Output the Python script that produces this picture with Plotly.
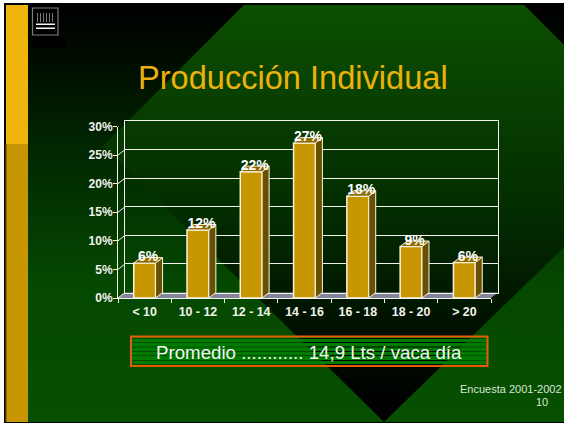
import plotly.graph_objects as go

# ---- data ----
categories = ["< 10", "10 - 12", "12 - 14", "14 - 16", "16 - 18", "18 - 20", "> 20"]
values = [6.1, 11.9, 22.1, 27.1, 17.8, 9.0, 6.2]
value_labels = ["6%", "12%", "22%", "27%", "18%", "9%", "6%"]
y_ticks = [0, 5, 10, 15, 20, 25, 30]
y_tick_labels = ["0%", "5%", "10%", "15%", "20%", "25%", "30%"]

title_text = "Producción Individual"
box_text = "Promedio ............ 14,9 Lts / vaca día"
footer_text = "Encuesta 2001-2002"
page_text = "10"

W, H = 564, 424
FONT = "Liberation Sans"
INK = "#f2f2ee"
EDGE = "#f8f4e4"

# plot geometry (pixels)
FX0, FX1, FY0, FY30 = 118, 491, 298, 126.5     # front plane
BX0, BX1, BY0, BY30 = 125, 498, 292.5, 121     # back wall
DX = (BX0 - FX0) / ((FX1 - FX0) / 7)           # depth in category units
DY = (FY0 - BY0) / ((FY0 - FY30) / 30)         # depth in percent units
BAR_W = 0.41
LABEL_DROP = 1.5 / ((FY0 - FY30) / 30)

fig = go.Figure()

# ---- background: two opposite vertical gradients, outside / inside a diamond ----
outside_scale = [[0, "#000000"], [0.13, "#000c00"], [0.336, "#012600"],
                 [0.67, "#054800"], [1, "#075000"]]
inside_scale = [[0, "#0c5000"], [0.5, "#032c00"], [0.9, "#000400"], [1, "#000000"]]
TOP, BOT = 5, 422
fig.add_trace(go.Scatter(x=[28, W, W, 28, 28], y=[TOP, TOP, BOT, BOT, TOP], mode="none",
                         fill="toself", hoverinfo="skip", showlegend=False,
                         fillgradient=dict(type="vertical", colorscale=outside_scale,
                                           start=TOP, stop=BOT),
                         xaxis="x", yaxis="y"))
fig.add_trace(go.Scatter(x=[244, 524, W, W, 384, 103, 244],
                         y=[TOP, TOP, 45, 247, BOT, 146, TOP], mode="none",
                         fill="toself", hoverinfo="skip", showlegend=False,
                         fillgradient=dict(type="vertical", colorscale=inside_scale,
                                           start=TOP, stop=BOT),
                         xaxis="x", yaxis="y"))

# ---- floor, in the lowest (pixel) layer so it sits beneath the bars ----
n = len(categories)
fig.add_trace(go.Scatter(
    x=[BX0, FX0, FX1, BX1, BX0], y=[BY0, FY0, FY0, BY0, BY0], mode="lines", fill="toself",
    fillcolor="#85859a", line=dict(color="#85859a", width=0), hoverinfo="skip",
    showlegend=False, xaxis="x", yaxis="y"))

# ---- back wall: an unmarked trace keeps this subplot (and its grid) alive ----
fig.add_trace(go.Scatter(x=list(range(n)), y=values, mode="none", hoverinfo="skip",
                         showlegend=False, xaxis="x2", yaxis="y2"))

# ---- front faces: real bars ----
fig.add_trace(go.Bar(x=list(range(n)), y=values, width=BAR_W, marker=dict(
    color="#c89600", line=dict(color=EDGE, width=1.5)),
    hoverinfo="skip", showlegend=False, xaxis="x3", yaxis="y3"))

# ---- side and top faces, derived from the values ----
for i, v in enumerate(values):
    l, r = i - BAR_W / 2, i + BAR_W / 2
    fig.add_trace(go.Scatter(
        x=[r, r + DX, r + DX, r, r], y=[0, DY, v + DY, v, 0], mode="lines", fill="toself",
        fillcolor="#695000", line=dict(color=EDGE, width=1), cliponaxis=False,
        hoverinfo="skip", showlegend=False, xaxis="x3", yaxis="y3"))
    fig.add_trace(go.Scatter(
        x=[l, l + DX, r + DX, r, l], y=[v, v + DY, v + DY, v, v], mode="lines", fill="toself",
        fillcolor="#8f6c00", line=dict(color=EDGE, width=1), cliponaxis=False,
        hoverinfo="skip", showlegend=False, xaxis="x3", yaxis="y3"))

# ---- diagonals joining the front ticks to the back wall ----
for t in y_ticks:
    fig.add_trace(go.Scatter(x=[-0.5, -0.5 + DX], y=[t, t + DY], mode="lines",
                             line=dict(color=INK, width=1), cliponaxis=False,
                             hoverinfo="skip", showlegend=False, xaxis="x3", yaxis="y3"))
fig.add_trace(go.Scatter(x=[n - 0.5, n - 0.5 + DX], y=[0, DY], mode="lines",
                         line=dict(color=INK, width=1), cliponaxis=False,
                         hoverinfo="skip", showlegend=False, xaxis="x3", yaxis="y3"))

# ---- value labels ----
fig.add_trace(go.Scatter(
    x=[i + DX / 2 for i in range(n)], y=[v - LABEL_DROP for v in values], mode="text",
    text=value_labels, textposition="top center",
    textfont=dict(family=FONT, size=14, color="#ffffff", weight="bold"),
    cliponaxis=False, hoverinfo="skip", showlegend=False, xaxis="x3", yaxis="y3"))

# ---- decoration ----
shapes = [
    dict(type="rect", xref="paper", yref="paper", x0=0, x1=1, y0=0, y1=1, layer="below",
         fillcolor="#000000", line_width=0),
]
def rect(x0, y0, x1, y1, fill, line=None, lw=0):
    shapes.append(dict(type="rect", xref="x", yref="y", x0=x0, y0=y0, x1=x1, y1=y1,
                       fillcolor=fill, line=dict(color=line or fill, width=lw), layer="above"))
# white page frame
rect(0, 0, W, 3, "#ffffff")
rect(0, 0, 4, H, "#ffffff")
rect(0, 423, W, H, "#ffffff")
# gold column
rect(6, 5, 28, 144, "#f0b50c")
rect(6, 144, 28, 422, "#c89600")
rect(5, 144, 6.5, 422, "#4a3800")
# logo
rect(32, 36, 65, 48, "#000000")
rect(32.5, 8, 58, 35, "#000000", "#7c7c7c", 1.2)
rect(36, 23.5, 55, 25, "#f4f4f4")
rect(36, 27.5, 55, 29, "#f4f4f4")
for lx in (37, 40, 43, 46, 49, 52):
    rect(lx, 13, lx + 1, 22, "#7a7a7a")
# box: green bands with one-pixel gaps through which the background shows
gaps = [338, 342, 346.5, 351, 355, 360, 364]
edges = [337] + gaps + [365.5]
for a, b in zip(edges[:-1], edges[1:]):
    rect(131, a + (0 if a == 337 else 1), 487, b, "#007a00")
rect(131, 336.5, 487.5, 366, "rgba(0,0,0,0)", "#e85d04", 2)

def note(px, py, text, size, color, xanchor="center"):
    return dict(x=px, y=py, xref="x", yref="y", text=text, showarrow=False, xanchor=xanchor,
                yanchor="middle", font=dict(family=FONT, size=size, color=color))

annotations = [
    note(292.5, 77, title_text, 32.6, "#edb10c"),
    note(309, 352, box_text, 18.7, "#f5f5f5"),
    note(511, 388.5, footer_text, 11, "#d8e6d8"),
    note(541.5, 402, page_text, 11, "#d8e6d8"),
]

fig.update_layout(
    width=W, height=H, autosize=False,
    margin=dict(l=0, r=0, t=0, b=0, pad=0, autoexpand=False),
    paper_bgcolor="#ffffff", plot_bgcolor="rgba(0,0,0,0)", showlegend=False, barmode="overlay",
    shapes=shapes, annotations=annotations,
    # pixel frame for the background
    xaxis=dict(domain=[0, 1], range=[0, W], visible=False, fixedrange=True),
    yaxis=dict(domain=[0, 1], range=[H, 0], visible=False, fixedrange=True),
    # back wall
    xaxis2=dict(domain=[BX0 / W, BX1 / W], range=[-0.5, n - 0.5], anchor="y2",
                showticklabels=False, ticks="", showline=True, linecolor=INK, linewidth=1,
                mirror=True, showgrid=False, zeroline=False, fixedrange=True),
    yaxis2=dict(domain=[1 - BY0 / H, 1 - BY30 / H], range=[0, 30], anchor="x2", tickvals=y_ticks,
                showticklabels=False, ticks="", showgrid=True, gridcolor=INK, gridwidth=1,
                zeroline=False, showline=True, linecolor=INK, linewidth=1, mirror=True,
                fixedrange=True),
    # front plane
    xaxis3=dict(domain=[FX0 / W, FX1 / W], range=[-0.5, n - 0.5], anchor="y3",
                tickvals=list(range(n)), ticktext=categories, ticks="", showgrid=False,
                zeroline=False, showline=True, linecolor=INK, linewidth=1,
                minor=dict(tick0=-0.5, dtick=1, ticks="outside", ticklen=4, tickcolor=INK,
                           tickwidth=1, showgrid=False),
                tickfont=dict(family=FONT, size=12.4, color=INK), ticklabelstandoff=2,
                fixedrange=True),
    yaxis3=dict(domain=[1 - FY0 / H, 1 - FY30 / H], range=[0, 30], anchor="x3",
                tickvals=y_ticks, ticktext=y_tick_labels, ticks="outside", ticklen=4,
                tickcolor=INK, tickwidth=1, showgrid=False, zeroline=False, showline=True,
                linecolor=INK, linewidth=1, ticklabelstandoff=-2,
                tickfont=dict(family=FONT, size=12, color=INK), fixedrange=True),
)
fig.update_xaxes(tickfont_weight="bold", selector=dict(anchor="y3"))
fig.update_yaxes(tickfont_weight="bold", selector=dict(anchor="x3"))

fig.write_html("out.html", config=dict(displayModeBar=False),
               post_script="document.body.style.margin='0';document.documentElement.style.overflow='hidden';")
